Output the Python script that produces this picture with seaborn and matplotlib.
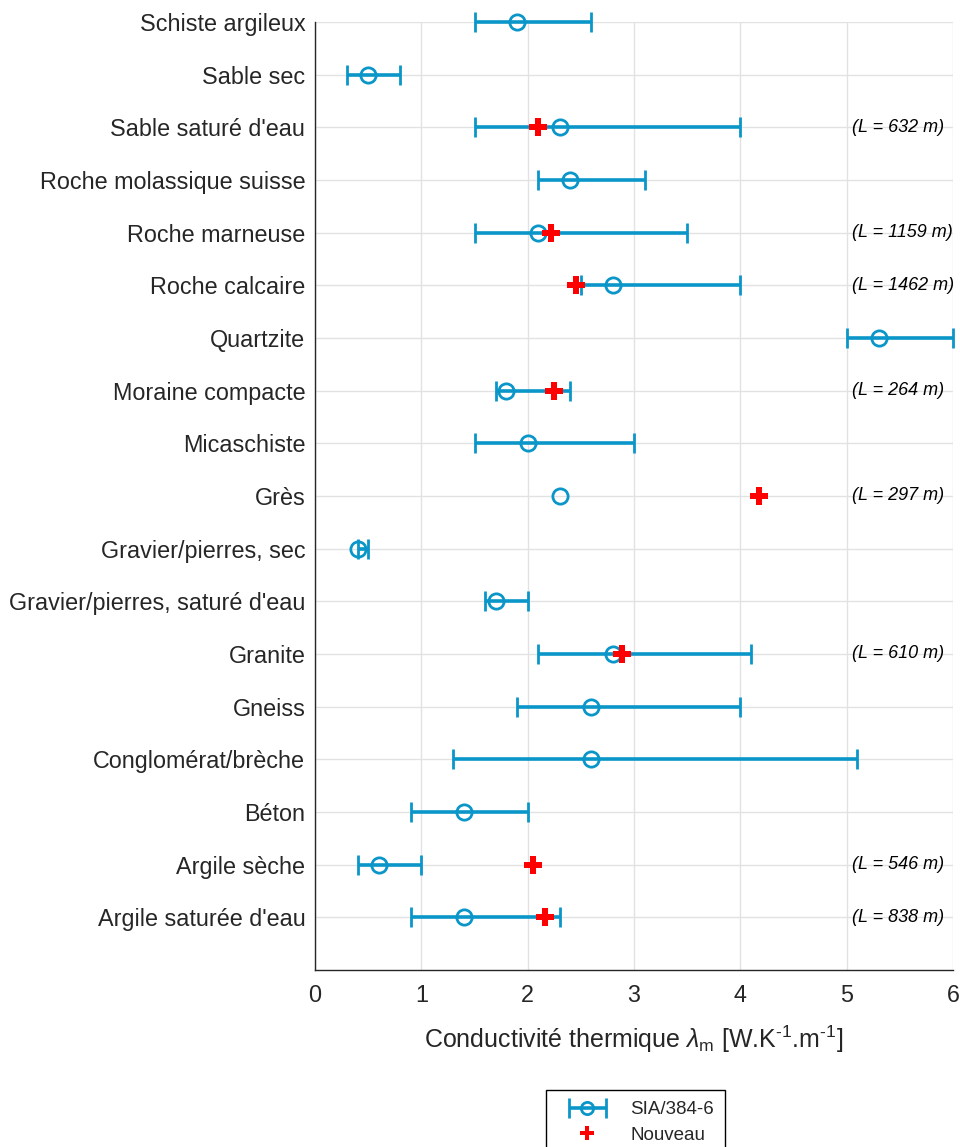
import numpy as np
import pandas as pd
import matplotlib
matplotlib.use("Agg")
import matplotlib.pyplot as plt
from matplotlib.legend_handler import HandlerErrorbar
from matplotlib.container import ErrorbarContainer
import seaborn as sns

nan = np.nan

categories = ["Schiste argileux", "Sable sec", "Sable saturé d'eau", "Roche molassique suisse",
              "Roche marneuse", "Roche calcaire", "Quartzite", "Moraine compacte", "Micaschiste",
              "Grès", "Gravier/pierres, sec", "Gravier/pierres, saturé d'eau", "Granite", "Gneiss",
              "Conglomérat/brèche", "Béton", "Argile sèche", "Argile saturée d'eau"]
sia_mean = [1.9, 0.5, 2.3, 2.4, 2.1, 2.8, 5.3, 1.8, 2.0, 2.3, 0.4, 1.7, 2.8, 2.6, 2.6, 1.4, 0.6, 1.4]
sia_low = [1.5, 0.3, 1.5, 2.1, 1.5, 2.5, 5.0, 1.7, 1.5, nan, 0.4, 1.6, 2.1, 1.9, 1.3, 0.9, 0.4, 0.9]
sia_high = [2.6, 0.8, 4.0, 3.1, 3.5, 4.0, 6.0, 2.4, 3.0, nan, 0.5, 2.0, 4.1, 4.0, 5.1, 2.0, 1.0, 2.3]
new_value = [nan, nan, 2.1, nan, 2.22, 2.45, nan, 2.25, nan, 4.18, nan, nan, 2.89, nan, nan, nan, 2.05, 2.16]
length_m = [nan, nan, 632, nan, 1159, 1462, nan, 264, nan, 297, nan, nan, 610, nan, nan, nan, 546, 838]
xticks = [0, 1, 2, 3, 4, 5, 6]
xlabel = "Conductivité thermique $\\lambda_{\\mathrm{m}}$ [W.K$^{\u2010\\mathrm{1}}$.m$^{\u2010\\mathrm{1}}$]"
legend_labels = ["SIA/384-6", "Nouveau"]

BLUE = "#0a96c8"
RED = "#ff0000"
DARK = "#262626"

sns.set_theme(style="whitegrid")
plt.rcParams["font.family"] = ["Liberation Sans", "DejaVu Sans"]
plt.rcParams["mathtext.fontset"] = "custom"
plt.rcParams["mathtext.rm"] = "Liberation Sans"
plt.rcParams["mathtext.it"] = "Liberation Sans:italic"
plt.rcParams["mathtext.fallback"] = "cm"

n = len(categories)
df = pd.DataFrame({
    "cat": categories,
    "y": np.arange(n, 0, -1),
    "mean": sia_mean,
    "low": sia_low,
    "high": sia_high,
    "new": new_value,
    "L": length_m,
})

fig = plt.figure(figsize=(9.6, 11.47), dpi=100)
ax = fig.add_axes([315 / 960, 1 - 970 / 1147, (953 - 315) / 960, (970 - 22) / 1147])

rng = df.dropna(subset=["low", "high"])
eb = ax.errorbar(rng["mean"], rng["y"],
                 xerr=[rng["mean"] - rng["low"], rng["high"] - rng["mean"]],
                 fmt="o", color=BLUE, mfc="none", mec=BLUE, ms=11, mew=2,
                 elinewidth=2.6, capsize=7.5, capthick=2, zorder=3)
solo = df[df["low"].isna()]
eb2 = ax.errorbar(solo["mean"], solo["y"], fmt="o", color=BLUE, mfc="none", mec=BLUE,
                  ms=11, mew=2, zorder=3)
for cont in (eb, eb2):
    for art in cont.get_children():
        art.set_clip_on(False)

newdf = df.dropna(subset=["new"])
sns.scatterplot(data=newdf, x="new", y="y", marker="P", s=150, color=RED,
                linewidth=0, ax=ax, zorder=4, clip_on=False)

for _, r in df.dropna(subset=["L"]).iterrows():
    ax.text(5.05, r["y"], f"(L = {int(r['L'])} m)", style="italic", fontsize=13,
            color="black", va="center", ha="left", clip_on=False)

ax.set_xlim(0, 6)
ax.set_ylim(0, n)
ax.set_xticks(xticks)
ax.set_xticklabels([str(t) for t in xticks])
ax.set_yticks(df["y"])
ax.set_yticklabels(df["cat"])
ax.set_xlabel(xlabel, fontsize=18, color=DARK, labelpad=12)
ax.set_ylabel("")

ax.grid(True, color="#e2e2e2", linewidth=1)
ax.tick_params(axis="both", direction="in", length=5, width=1, color=DARK,
               labelsize=16.8, labelcolor=DARK)
ax.tick_params(axis="y", pad=7)
ax.tick_params(axis="x", pad=10)
for s in ["top", "right"]:
    ax.spines[s].set_visible(False)
for s in ["left", "bottom"]:
    ax.spines[s].set_color(DARK)
    ax.spines[s].set_linewidth(1)
ax.set_facecolor("white")
if ax.get_legend() is not None:
    ax.get_legend().remove()

red_handle = plt.Line2D([], [], marker="P", color=RED, linestyle="none", markersize=12.5,
                        markeredgewidth=0)
fs = 13.5
fig.legend([eb, red_handle], legend_labels, loc="upper left",
           bbox_to_anchor=(546 / 960, 1 - 1090 / 1147), frameon=True, fancybox=False,
           edgecolor="black", framealpha=1, fontsize=fs, handlelength=3.2,
           handletextpad=0.7, borderpad=0.6, labelspacing=0.45, borderaxespad=0,
           markerscale=0.8,
           handler_map={ErrorbarContainer: HandlerErrorbar(xerr_size=1.0)})

fig.savefig("out.png", dpi=100)
